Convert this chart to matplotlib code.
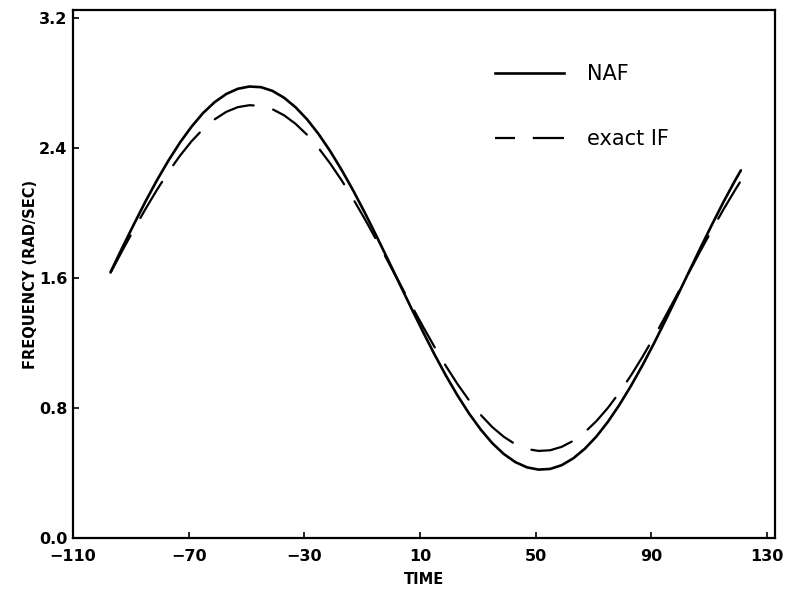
import matplotlib
matplotlib.use("Agg")
import matplotlib.pyplot as plt
from matplotlib.lines import Line2D

time = [-97, -93, -89, -85, -81, -77, -73, -69, -65, -61, -57, -53, -49, -45,
        -41, -37, -33, -29, -25, -21, -17, -13, -9, -5, -1, 3, 7, 11, 15, 19,
        23, 27, 31, 35, 39, 43, 47, 51, 55, 59, 63, 67, 71, 75, 79, 83, 87,
        91, 95, 99, 103, 107, 111, 115, 119, 121]
naf = [1.637, 1.785, 1.929, 2.069, 2.201, 2.323, 2.434, 2.532, 2.616, 2.683,
       2.733, 2.765, 2.779, 2.775, 2.752, 2.710, 2.651, 2.576, 2.485, 2.380,
       2.263, 2.136, 2.000, 1.857, 1.711, 1.563, 1.415, 1.271, 1.131, 0.999,
       0.877, 0.766, 0.668, 0.584, 0.517, 0.467, 0.435, 0.421, 0.425, 0.448,
       0.490, 0.549, 0.624, 0.715, 0.820, 0.937, 1.064, 1.200, 1.343, 1.489,
       1.637, 1.785, 1.929, 2.069, 2.201, 2.263]
exact_if = [1.633, 1.767, 1.897, 2.023, 2.142, 2.253, 2.353, 2.442, 2.517, 2.577,
            2.623, 2.652, 2.664, 2.660, 2.639, 2.602, 2.549, 2.481, 2.399, 2.304,
            2.199, 2.084, 1.961, 1.832, 1.700, 1.567, 1.433, 1.303, 1.177, 1.058,
            0.947, 0.847, 0.758, 0.683, 0.623, 0.577, 0.548, 0.536, 0.540, 0.561,
            0.598, 0.651, 0.719, 0.801, 0.896, 1.001, 1.116, 1.239, 1.368, 1.500,
            1.633, 1.767, 1.897, 2.023, 2.142, 2.199]

xticks = [-110, -70, -30, 10, 50, 90, 130]
yticks = [0.0, 0.8, 1.6, 2.4, 3.2]
ytick_labels = ["0.0", "0.8", "1.6", "2.4", "3.2"]
series_labels = ["NAF", "exact IF"]

fig = plt.figure(figsize=(7.9, 5.95), dpi=100)
ax = fig.add_axes([73/790, 1 - 538/595, (775 - 73)/790, (538 - 10)/595])

ax.plot(time, naf, color="black", lw=1.9, solid_capstyle="round",
        solid_joinstyle="round")
ax.plot(time, exact_if, color="black", lw=1.6, linestyle=(0, (19, 9)),
        dash_capstyle="round")

ax.set_xlim(-110, 132.8)
ax.set_ylim(0, 3.25)
ax.set_xticks(xticks)
ax.set_xticklabels([str(v).replace("-", "\u2212") for v in xticks],
                   fontsize=11.5, fontweight="bold")
ax.set_yticks(yticks)
ax.set_yticklabels(ytick_labels, fontsize=11.5, fontweight="bold")
ax.tick_params(axis="both", direction="in", length=4, width=1.2)
ax.tick_params(axis="x", pad=8)
ax.tick_params(axis="y", pad=4)
for s in ax.spines.values():
    s.set_linewidth(1.6)

ax.set_xlabel("TIME", fontsize=10.5, fontweight="bold", labelpad=6)
ax.set_ylabel("FREQUENCY (RAD/SEC)", fontsize=10.5, fontweight="bold", labelpad=1)

handles = [Line2D([], [], color="black", lw=1.9),
           Line2D([], [], color="black", lw=1.6, linestyle=(0, (9, 8, 15, 8)))]
ax.legend(handles, series_labels, loc="upper left", bbox_to_anchor=(0.601, 0.897),
          frameon=False, fontsize=15, handlelength=3.3, handletextpad=1.1,
          labelspacing=2.15, borderpad=0, borderaxespad=0)

fig.savefig("out.png", dpi=100)
